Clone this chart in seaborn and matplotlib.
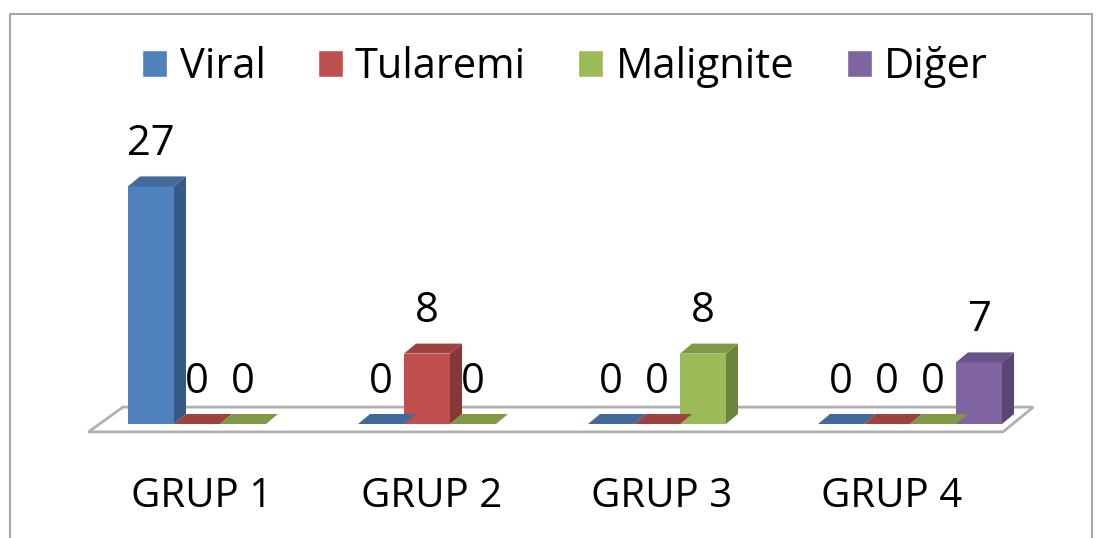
import pandas as pd
import numpy as np
import matplotlib.pyplot as plt
import matplotlib.transforms as mtransforms
import seaborn as sns
from matplotlib.patches import Polygon, Patch
from matplotlib.lines import Line2D

# data
groups = ["GRUP 1", "GRUP 2", "GRUP 3", "GRUP 4"]
categories = ["Viral", "Tularemi", "Malignite", "Diğer"]
viral = [27, 0, 0, 0]
tularemi = [0, 8, 0, 0]
malignite = [0, 0, 8, 0]
diger = [np.nan, np.nan, np.nan, 7]
colors = ["#4F81BD", "#C0504D", "#9BBB59", "#8064A2"]

df = pd.DataFrame({"grup": groups * 4,
                   "kategori": np.repeat(categories, 4),
                   "value": viral + tularemi + malignite + diger})

sns.set_style("white")
plt.rcParams["font.family"] = ["Open Sans", "DejaVu Sans"]
plt.rcParams["text.color"] = "black"
plt.rcParams["xtick.color"] = "black"

W, H = 1102, 538
fig = plt.figure(figsize=(W / 100, H / 100), dpi=100)
ax_l, ax_r, ax_b, ax_t = 105, 1025, 424, 160
ax = fig.add_axes([ax_l / W, (H - ax_b) / H, (ax_r - ax_l) / W, (ax_b - ax_t) / H])

sns.barplot(data=df, x="grup", y="value", hue="kategori", order=groups,
            hue_order=categories, palette=colors, width=0.8, ax=ax,
            saturation=1, linewidth=0, edgecolor="none", legend=False, zorder=3)
ax.set_xlim(-0.5, 3.5)
ax.set_ylim(0, 30)

# fake 3d depth: offsets in data units from pixel sizes
px_x = (ax_r - ax_l) / 4
px_y = (ax_b - ax_t) / 30
dx, dy = 12 / px_x, 10 / px_y

# floor plane (axes fraction)
floor = Polygon([(-0.018, -0.03), (0.976, -0.03), (1.009, 0.064), (0.0196, 0.064)],
                closed=True, transform=ax.transAxes, facecolor="white",
                edgecolor="#B0B0B0", lw=2, zorder=1, clip_on=False)
ax.add_patch(floor)

for p in list(ax.patches):
    if p is floor:
        continue
    h = p.get_height()
    if np.isnan(h):
        continue
    x, w = p.get_x(), p.get_width()
    c = np.array(p.get_facecolor()[:3])
    side = Polygon([(x + w, 0), (x + w + dx, dy), (x + w + dx, h + dy), (x + w, h)],
                   facecolor=c * 0.7, edgecolor="none", zorder=3, clip_on=False)
    top = Polygon([(x, h), (x + dx, h + dy), (x + w + dx, h + dy), (x + w, h)],
                  facecolor=c * 0.82, edgecolor="none", zorder=3, clip_on=False)
    ax.add_patch(side)
    ax.add_patch(top)
    ax.annotate(f"{h:.0f}", (x + w / 2, h + dy), xytext=(0, 8),
                textcoords="offset points", ha="center", va="bottom",
                fontsize=30, color="black", annotation_clip=False)

sns.despine(ax=ax, left=True, bottom=True)
ax.set_yticks([])
ax.set_xlabel("")
ax.set_ylabel("")
ax.tick_params(axis="x", length=0, pad=38, labelsize=29, labelcolor="black")
shift = mtransforms.ScaledTranslation(-18 / 100, 0, fig.dpi_scale_trans)
for lab in ax.get_xticklabels():
    lab.set_transform(lab.get_transform() + shift)

handles = [Patch(facecolor=c) for c in colors]
fig.legend(handles, categories, loc="center", bbox_to_anchor=(565 / W, 1 - 67 / H),
           ncol=4, frameon=False, fontsize=30, handlelength=0.6, handleheight=0.6,
           handletextpad=0.3, columnspacing=1.25, labelcolor="black")

# chart frame
fc = "#A6A6A6"
fig.add_artist(Line2D([10 / W, 1092 / W], [1 - 14 / H, 1 - 14 / H], color=fc, lw=1.5))
fig.add_artist(Line2D([10 / W, 10 / W], [0, 1 - 14 / H], color=fc, lw=1.5))
fig.add_artist(Line2D([1092 / W, 1092 / W], [0, 1 - 14 / H], color=fc, lw=1.5))

fig.savefig("out.png", dpi=100)
